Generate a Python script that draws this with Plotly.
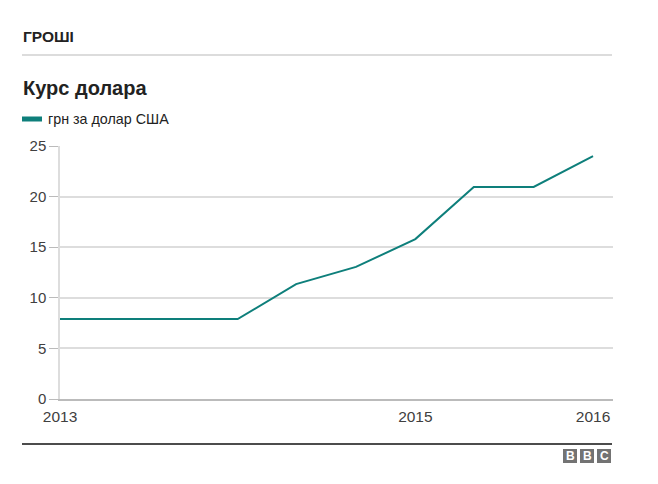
import plotly.graph_objects as go

# ── Дані ──────────────────────────────────────────────────────────────────────
DATES = ["2013-01-01", "2014-01-01", "2014-05-01", "2014-09-01",
         "2015-01-01", "2015-05-01", "2015-09-01", "2016-01-01"]
RATE = [7.9, 7.9, 11.35, 13.05, 15.8, 20.95, 20.95, 24.0]
TICK_VALS = ["2013-01-01", "2015-01-01", "2016-01-01"]
TICK_TEXT = ["2013", "2015", "2016"]

SECTION = "ГРОШІ"
TITLE = "Курс долара"
SERIES = "грн за долар США"

# ── Геометрія (пікселі сторінки; сторінка має відступ 8 px) ──────────────────
OFF = 8
W, H = 658 - OFF, 484 - OFF
L, R, T, B = 60 - OFF, 45, 146 - OFF, 85
PW, PH = W - L - R, H - T - B
TEAL = "#0e7f7b"
FONT = "Arial, Liberation Sans, sans-serif"


def px(x):
    return (x - OFF - L) / PW


def py(y):
    return (H - B - (y - OFF)) / PH


fig = go.Figure()
fig.add_trace(go.Scatter(
    x=DATES, y=RATE, mode="lines", name=SERIES,
    line=dict(color=TEAL, width=2),
    hoverinfo="x+y", showlegend=False,
))

shapes = [
    dict(type="line", xref="paper", yref="paper", x0=px(22), x1=px(612),
         y0=py(55), y1=py(55), line=dict(color="#dcdcdc", width=2)),
    dict(type="line", xref="paper", yref="paper", x0=px(22), x1=px(42),
         y0=py(119), y1=py(119), line=dict(color=TEAL, width=5)),
    dict(type="line", xref="paper", yref="paper", x0=px(22), x1=px(612),
         y0=py(444), y1=py(444), line=dict(color="#111111", width=1.5)),
]
annotations = [
    dict(text="<b>" + SECTION + "</b>", x=px(21), y=py(36), xanchor="left",
         yanchor="middle", font=dict(size=15.5, color="#222222", family=FONT)),
    dict(text="<b>" + TITLE + "</b>", x=px(21), y=py(88), xanchor="left",
         yanchor="middle", font=dict(size=20, color="#222222", family=FONT)),
    dict(text=SERIES, x=px(46), y=py(119), xanchor="left",
         yanchor="middle", font=dict(size=14.3, color="#222222", family=FONT)),
]
for i, ch in enumerate("BBC"):
    x0 = 563 + i * 17
    shapes.append(dict(type="rect", xref="paper", yref="paper",
                       x0=px(x0), x1=px(x0 + 14), y0=py(463), y1=py(449),
                       fillcolor="#737373", line=dict(width=0)))
    annotations.append(dict(text="<b>" + ch + "</b>", x=px(x0 + 7), y=py(456),
                            xanchor="center", yanchor="middle",
                            font=dict(size=12, color="white", family=FONT)))
for a in annotations:
    a.update(xref="paper", yref="paper", showarrow=False)

fig.update_layout(
    width=W, height=H,
    margin=dict(l=L, r=R, t=T, b=B),
    plot_bgcolor="white", paper_bgcolor="white",
    font=dict(family=FONT, size=15, color="#404040"),
    shapes=shapes, annotations=annotations,
    xaxis=dict(
        type="date", range=["2013-01-01", "2016-02-11"],
        tickvals=TICK_VALS, ticktext=TICK_TEXT,
        showgrid=False, zeroline=False,
        showline=True, linecolor="#bbbbbb", linewidth=1.5,
        ticks="", ticklabelstandoff=3,
        tickfont=dict(size=15.5, color="#404040"),
    ),
    yaxis=dict(
        range=[0, 25], tickvals=[0, 5, 10, 15, 20, 25],
        showgrid=True, gridcolor="#dddddd", gridwidth=1.5,
        zeroline=False, showline=True, linecolor="#dddddd", linewidth=1.5,
        ticks="outside", ticklen=9, tickcolor="#bbbbbb", tickwidth=1,
        tickfont=dict(size=15, color="#404040"),
    ),
)

fig.write_html("out.html")
